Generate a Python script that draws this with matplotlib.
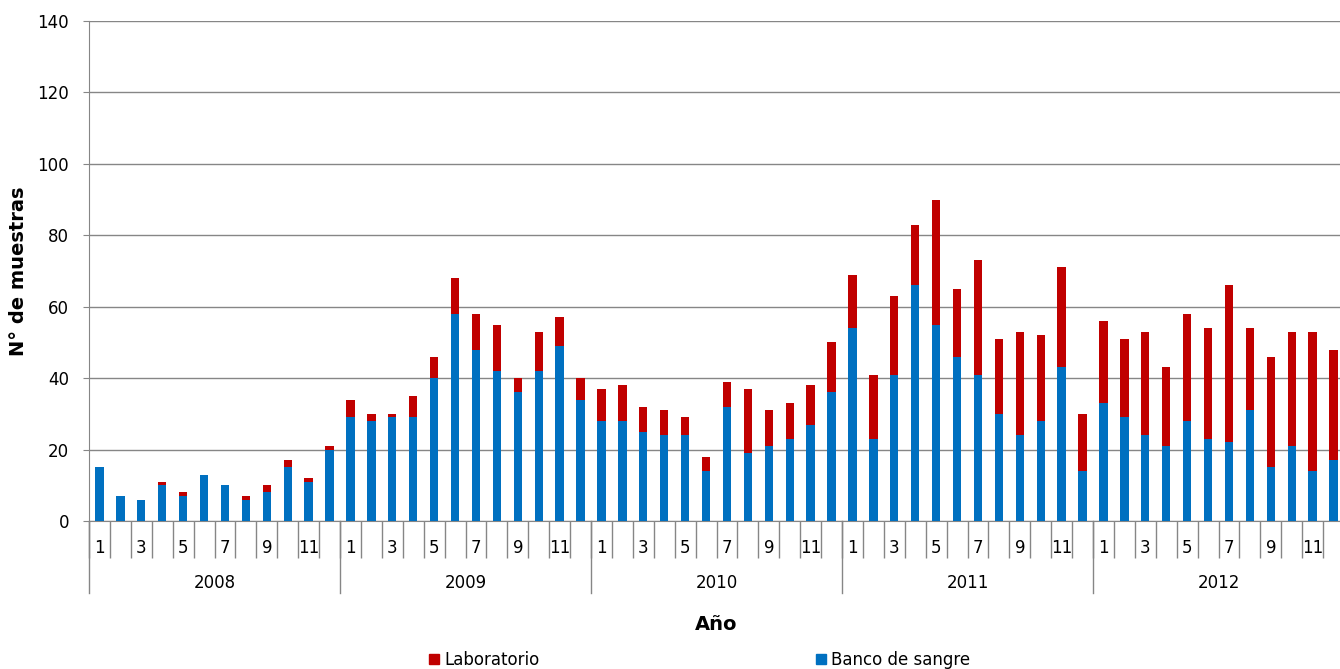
import numpy as np
import matplotlib
matplotlib.use('Agg')
import matplotlib.pyplot as plt
from matplotlib.patches import Patch

# Datos mensuales 2008-2012 (nº de muestras)
anios = ['2008', '2009', '2010', '2011', '2012']
meses = list(range(1, 13))
banco = [15, 7, 6, 10, 7, 13, 10, 6, 8, 15, 11, 20,
         29, 28, 29, 29, 40, 58, 48, 42, 36, 42, 49, 34,
         28, 28, 25, 24, 24, 14, 32, 19, 21, 23, 27, 36,
         54, 23, 41, 66, 55, 46, 41, 30, 24, 28, 43, 14,
         33, 29, 24, 21, 28, 23, 22, 31, 15, 21, 14, 17]
laboratorio = [0, 0, 0, 1, 1, 0, 0, 1, 2, 2, 1, 1,
               5, 2, 1, 6, 6, 10, 10, 13, 4, 11, 8, 6,
               9, 10, 7, 7, 5, 4, 7, 18, 10, 10, 11, 14,
               15, 18, 22, 17, 35, 19, 32, 21, 29, 24, 28, 16,
               23, 22, 29, 22, 30, 31, 44, 23, 31, 32, 39, 31]

azul = '#0070C0'
rojo = '#C00000'
gris = '#868686'
fs = 12

W, H = 1340, 669
fig = plt.figure(figsize=(W / 100, H / 100), dpi=100)
ax = fig.add_axes([89 / W, 148 / H, 1255 / W, 500 / H])

x = np.arange(len(banco))
ax.bar(x, banco, width=0.4, color=azul, zorder=3)
ax.bar(x, laboratorio, width=0.4, bottom=banco, color=rojo, zorder=3)

ax.set_xlim(-0.5, len(banco) - 0.5)
ax.set_ylim(0, 140)
ax.set_yticks(range(0, 141, 20))
ax.yaxis.grid(True, color=gris, linewidth=1, zorder=0)
ax.tick_params(axis='y', length=4.3, color=gris, labelsize=fs, pad=10)

# etiquetas de mes (solo impares) y separadores entre meses
etiquetas = [str(m) if m % 2 == 1 else '' for a in anios for m in meses]
ax.set_xticks(x)
ax.set_xticklabels(etiquetas)
ax.tick_params(axis='x', which='major', length=0, labelsize=fs, pad=13)
ax.set_xticks(np.arange(-0.5, len(banco), 1), minor=True)
ax.tick_params(axis='x', which='minor', length=26.5, color=gris, width=1)

for s in ['top', 'right']:
    ax.spines[s].set_visible(False)
for s in ['left', 'bottom']:
    ax.spines[s].set_color(gris)

# separadores y etiquetas de año
trans = ax.get_xaxis_transform()
for i, a in enumerate(anios):
    ax.plot([12 * i - 0.5, 12 * i - 0.5], [0, -72 / 500], transform=trans,
            color=gris, linewidth=1, clip_on=False)
    ax.text(12 * i + 5.5, -62 / 500, a, transform=trans, ha='center', va='center',
            fontsize=fs)

fig.text(18.5 / W, 1 - 271 / H, 'N° de muestras', rotation=90, ha='center', va='center',
         fontsize=14, fontweight='bold')
fig.text((89 + 1255 / 2) / W, 1 - 624 / H, 'Año', ha='center', va='center',
         fontsize=14, fontweight='bold')

handles = [Patch(color=rojo, label='Laboratorio'), Patch(color=azul, label='Banco de sangre')]
fig.legend(handles=handles, loc='center left', bbox_to_anchor=(429 / W, 1 - 660 / H),
           ncol=2, frameon=False, fontsize=fs, handlelength=0.6, handleheight=0.6,
           handletextpad=0.3, columnspacing=16.6, borderpad=0, borderaxespad=0)

plt.savefig('out.png', dpi=100)
